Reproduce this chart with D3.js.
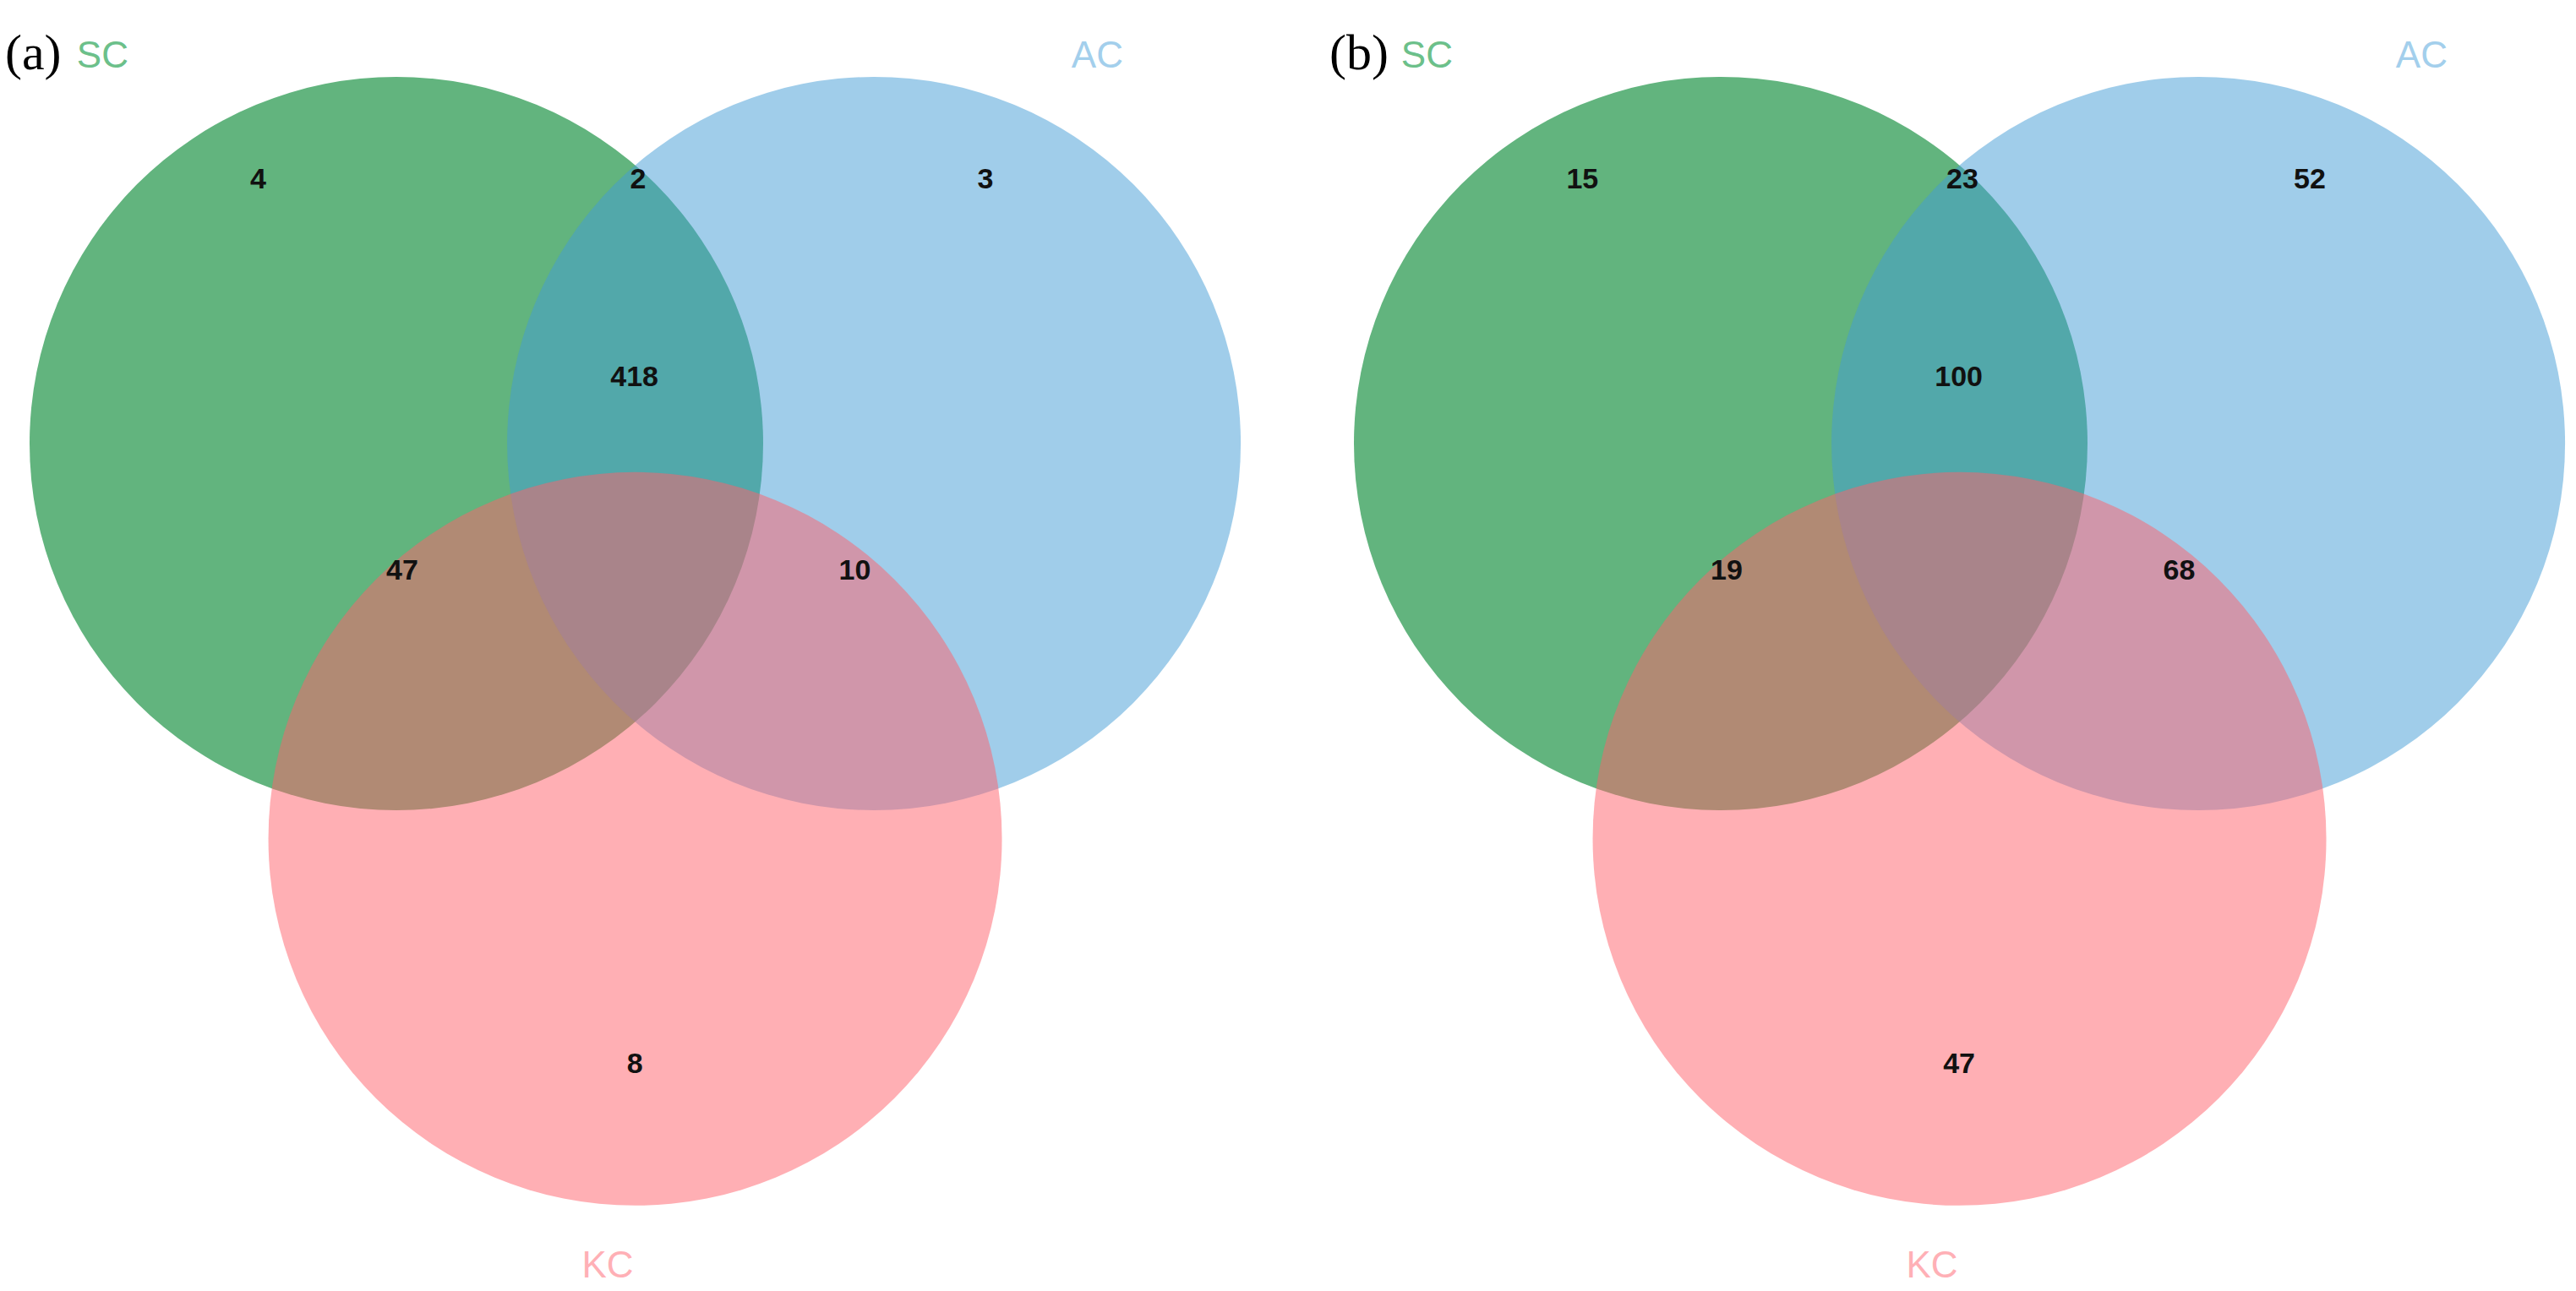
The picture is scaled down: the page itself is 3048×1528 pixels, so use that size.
<!DOCTYPE html>
<html>
<head>
<meta charset="utf-8">
<script src="https://cdn.jsdelivr.net/npm/d3@7"></script>
<style>
  body { margin: 0; background: #fff; }
</style>
</head>
<body>
<div id="chart"></div>
<script>
let panels = ["(a)", "(b)"];
let sets = ["SC", "AC", "KC"];
// region order: SC only, SC&AC, AC only, all, SC&KC, AC&KC, KC only
let regions = ["SC", "SC_AC", "AC", "SC_AC_KC", "SC_KC", "AC_KC", "KC"];
let countsA = [4, 2, 3, 418, 47, 10, 8];
let countsB = [15, 23, 52, 100, 19, 68, 47];

let width = 3048;
let height = 1528;
let panelWidth = 1567;

let fills = { SC: "#62b47e", AC: "#419bd5", KC: "#ff5f6a" };
let fillOpacity = { SC: 1, AC: 0.5, KC: 0.5 };
let labelColors = { SC: "#6cc08a", AC: "#a3cfec", KC: "#ffb0b6" };

// unit layout: circle radius = 1
let x = d3.scaleLinear().domain([0, 1]).range([469, 903]);
let y = d3.scaleLinear().domain([0, 1]).range([525, 959]);

let centers = {
  SC: [0, 0],
  AC: [1.302, 0],
  KC: [0.651, 1.078],
};
let regionPos = {
  SC: [-0.377, -0.724],
  SC_AC: [0.659, -0.724],
  AC: [1.606, -0.724],
  SC_AC_KC: [0.649, -0.184],
  SC_KC: [0.016, 0.343],
  AC_KC: [1.25, 0.343],
  KC: [0.65, 1.69],
};
let labelPos = {
  SC: [-0.801, -1.062],
  AC: [1.911, -1.062],
  KC: [0.576, 2.239],
};

let svg = d3
  .select("#chart")
  .append("svg")
  .attr("width", width)
  .attr("height", height);

[countsA, countsB].forEach(function (counts, p) {
  let g = svg.append("g").attr("transform", "translate(" + p * panelWidth + ",0)");

  sets.forEach(function (s) {
    g.append("circle")
      .attr("cx", x(centers[s][0]))
      .attr("cy", y(centers[s][1]))
      .attr("r", x(1) - x(0))
      .attr("fill", fills[s])
      .attr("fill-opacity", fillOpacity[s]);
  });

  regions.forEach(function (r, i) {
    g.append("text")
      .attr("x", x(regionPos[r][0]))
      .attr("y", y(regionPos[r][1]))
      .attr("text-anchor", "middle")
      .attr("dominant-baseline", "central")
      .attr("font-family", "'Liberation Sans Narrow', 'Arial Narrow', 'Liberation Sans', sans-serif")
      .attr("font-weight", "bold")
      .attr("font-size", 34)
      .attr("fill", "#111")
      .text(counts[i]);
  });

  sets.forEach(function (s) {
    g.append("text")
      .attr("x", x(labelPos[s][0]))
      .attr("y", y(labelPos[s][1]))
      .attr("text-anchor", "middle")
      .attr("dominant-baseline", "central")
      .attr("font-family", "'Liberation Sans Narrow', 'Arial Narrow', 'Liberation Sans', sans-serif")
      .attr("font-size", 44)
      .attr("fill", labelColors[s])
      .text(s);
  });

  g.append("text")
    .attr("x", 6)
    .attr("y", 82)
    .attr("font-family", "'Liberation Serif', 'Times New Roman', serif")
    .attr("font-size", 60)
    .attr("fill", "#000")
    .text(panels[p]);
});
</script>
</body>
</html>
